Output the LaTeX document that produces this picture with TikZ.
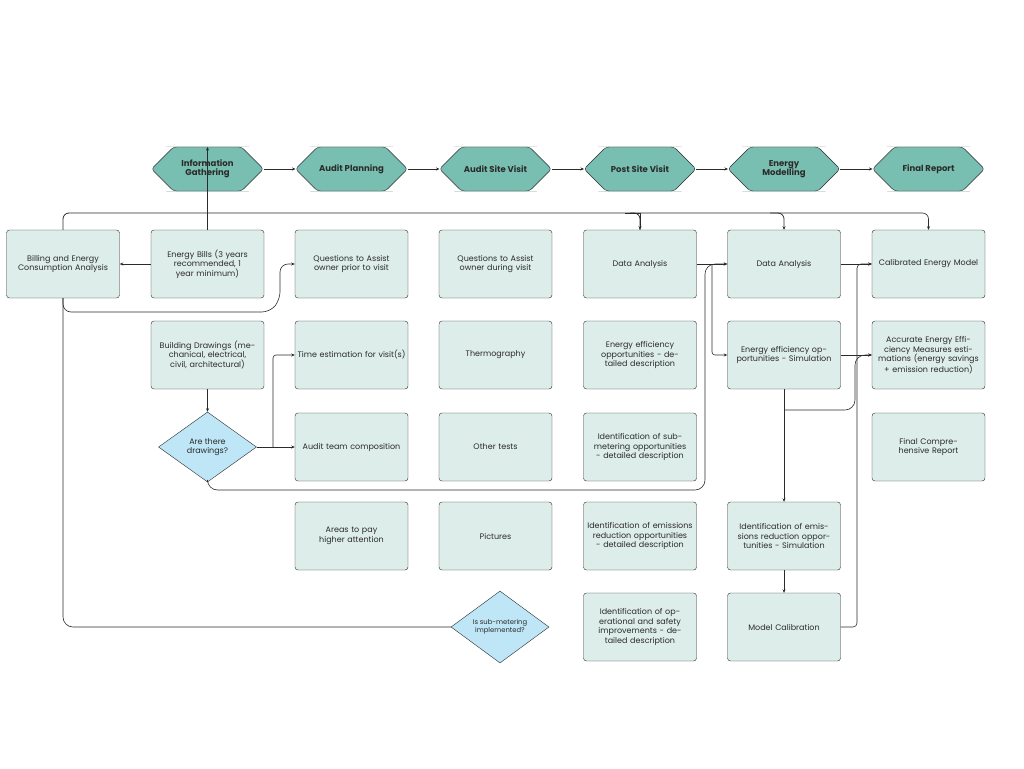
\documentclass[tikz,border=0pt]{standalone}
\usepackage{fontspec}
\setmainfont{Poppins}
\usetikzlibrary{shapes.geometric,arrows.meta}
\definecolor{hexfill}{HTML}{78BFB2}
\definecolor{boxfill}{HTML}{DDEDE9}
\definecolor{decfill}{HTML}{BEE6F6}
\definecolor{ink}{HTML}{2B2B2B}
\tikzset{
  stage/.style={draw=ink, fill=hexfill, regular polygon, regular polygon sides=6, shape border rotate=0,
    minimum size=0pt, inner sep=0pt, font=\fontsize{8.5}{9.5}\selectfont\bfseries, text=ink, align=center},
  task/.style={draw=ink, fill=boxfill, rounded corners=3pt, minimum width=113pt, minimum height=68pt,
    inner sep=2pt, text width=109pt, align=center, font=\fontsize{8}{9.6}\selectfont, text=ink},
  check/.style={draw=ink, fill=decfill, diamond, aspect=1.4, inner sep=0pt, align=center, text=ink},
  flow/.style={draw=ink, semithick, -{Stealth[length=3.5pt,width=3pt]}},
  link/.style={draw=ink, semithick},
}
\begin{document}
\begin{tikzpicture}[x=1pt,y=-1pt]
  \useasboundingbox (0,0) rectangle (1024,768);
  %stage hexagons along the top
  \foreach \name/\x/\txt in {info/207.5/Information\\Gathering, plan/351.5/Audit Planning, site/495.5/Audit Site Visit,
      post/640/Post Site Visit, model/784/Energy\\Modelling, final/928.5/Final Report}{
    \node[draw=ink, fill=hexfill, rounded corners=4pt, text=ink, align=center, inner sep=0pt,
      font=\fontsize{8.5}{9.5}\selectfont\bfseries, minimum width=90pt, minimum height=44pt]
      (\name) at (\x,169) {\txt};
    \fill[white] (\x-56,147) rectangle (\x+56,191);
    \draw[ink, fill=hexfill, rounded corners=3pt] (\x-56,169) -- (\x-34,147) -- (\x+34,147) -- (\x+56,169)
      -- (\x+34,191) -- (\x-34,191) -- cycle;
    \node[text=ink, align=center, font=\fontsize{8.5}{9.5}\selectfont\bfseries] at (\x,169) {\txt};
  }
  \foreach \a/\b in {info/plan, plan/site, site/post, post/model, model/final}
    \draw[flow] ([xshift=56pt]\a.center) -- ([xshift=-56pt]\b.center);

  %column 0 and 1: information gathering
  \node[task] (bill) at (63,264) {Billing and Energy Consumption Analysis};
  \node[task] (bills) at (207.5,264) {Energy Bills (3 years recommended, 1 year minimum)};
  \node[task] (draw) at (207.5,355) {Building Drawings (mechanical, electrical, civil, architectural)};
  \node[check, minimum width=98pt, minimum height=70pt, font=\fontsize{8}{9.6}\selectfont] (hasdraw) at (207.5,447) {Are there\\drawings?};
  %column 2: audit planning
  \node[task] (qprior) at (351.5,264) {Questions to Assist owner prior to visit};
  \node[task] (time) at (351.5,355) {Time estimation for visit(s)};
  \node[task] (team) at (351.5,447) {Audit team composition};
  \node[task] (areas) at (351.5,536) {Areas to pay higher attention};
  %column 3: site visit
  \node[task] (qduring) at (495.5,264) {Questions to Assist owner during visit};
  \node[task] (thermo) at (495.5,355) {Thermography};
  \node[task] (tests) at (495.5,447) {Other tests};
  \node[task] (pics) at (495.5,536) {Pictures};
  %column 4: post site visit
  \node[task] (data1) at (640,264) {Data Analysis};
  \node[task] (eff1) at (640,355) {Energy efficiency opportunities - detailed description};
  \node[task] (sub1) at (640,447) {Identification of sub-metering opportunities - detailed description};
  \node[task] (emi1) at (640,536) {Identification of emissions reduction opportunities - detailed description};
  \node[task] (ops1) at (640,627) {Identification of operational and safety improvements - detailed description};
  \node[check, minimum width=98pt, minimum height=72pt, font=\fontsize{6.8}{8}\selectfont] (hassub) at (500,627) {Is sub-metering\\implemented?};
  %column 5: energy modelling
  \node[task] (data2) at (784,264) {Data Analysis};
  \node[task] (eff2) at (784,355) {Energy efficiency opportunities - Simulation};
  \node[task] (emi2) at (784,536) {Identification of emissions reduction opportunities - Simulation};
  \node[task] (calib) at (784,627) {Model Calibration};
  %column 6: final report
  \node[task] (cmodel) at (928.5,264) {Calibrated Energy Model};
  \node[task] (eem) at (928.5,355) {Accurate Energy Efficiency Measures estimations (energy savings + emission reduction)};
  \node[task] (report) at (928.5,447) {Final Comprehensive Report};

  %connectors
  \draw[flow] (bills.north) -- ([yshift=22pt]info.center);
  \draw[flow] (bills.west) -- (bill.east);
  \draw[link, thick, rounded corners=6pt] (bill.north) |- (240,213) -| (data1.north);
  \draw[flow, thick, rounded corners=6pt] (630,213) -| (data2.north);
  \draw[flow, rounded corners=6pt] (770,213) -| (cmodel.north);
  \draw[flow] (625,213) -| (data1.north);
  \draw[flow, rounded corners=8pt] (bill.south) |- (270,312) -- (280,300) |- (qprior.west);
  \draw[link, rounded corners=10pt] (hassub.west) -| (bill.south);
  \draw[flow] (draw.south) -- (hasdraw.north);
  \draw[flow] (hasdraw.east) -- (team.west);
  \draw[flow, rounded corners=3pt] (273,447) |- (time.west);
  \draw[flow, rounded corners=10pt] (hasdraw.south) |- (705,490) |- (data2.west);
  \draw[flow] (data1.east) -- (data2.west);
  \draw[flow, rounded corners=3pt] (712,264) |- (eff2.west);
  \draw[flow] (data2.east) -- (cmodel.west);
  \draw[flow] (eff2.east) -- (eem.west);
  \draw[flow] (eff2.south) -- (emi2.north);
  \draw[flow] (emi2.south) -- (calib.north);
  \draw[flow, rounded corners=10pt] (784,410) -| (855,355) -- (eem.west);
  \draw[flow, rounded corners=4pt] (calib.east) -| (857,264) -- (cmodel.west);
\end{tikzpicture}
\end{document}
